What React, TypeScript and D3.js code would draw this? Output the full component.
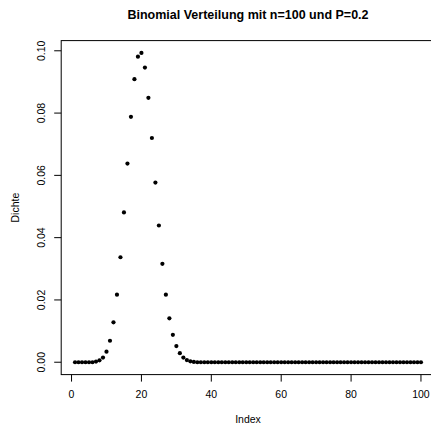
import React from "react";
import * as d3 from "d3";

// density values, index 1..100
const dichte = [
  0, 0, 0, 0, 0, 0, 0.0002, 0.0006, 0.0015, 0.0034,
  0.0069, 0.0128, 0.0217, 0.0337, 0.0481, 0.0638, 0.0788, 0.0909, 0.0981, 0.0993,
  0.0946, 0.0849, 0.072, 0.0577, 0.0439, 0.0316, 0.0217, 0.0141, 0.0088, 0.0052,
  0.0029, 0.0015, 0.0007, 0.0003, 0.0001, 0, 0, 0, 0, 0,
  0, 0, 0, 0, 0, 0, 0, 0, 0, 0,
  0, 0, 0, 0, 0, 0, 0, 0, 0, 0,
  0, 0, 0, 0, 0, 0, 0, 0, 0, 0,
  0, 0, 0, 0, 0, 0, 0, 0, 0, 0,
  0, 0, 0, 0, 0, 0, 0, 0, 0, 0,
  0, 0, 0, 0, 0, 0, 0, 0, 0, 0,
];
const xTicks = [0, 20, 40, 60, 80, 100];
const yTicks = [0, 0.02, 0.04, 0.06, 0.08, 0.1];
const title = "Binomial Verteilung mit n=100 und P=0.2";

const W = 431;
const H = 428;
const left = 61.2;
const right = 434.8;
const top = 40.6;
const bottom = 374.6;
const font = "'Liberation Sans', Arial, Helvetica, sans-serif";

const App = () => {
  const n = dichte.length;
  const ymax = d3.max(dichte) as number;
  // R style 4% extension
  const xs = d3.scaleLinear().domain([1 - 0.04 * (n - 1), n + 0.04 * (n - 1)]).range([left, right]);
  const ys = d3.scaleLinear().domain([-0.04 * ymax, ymax * 1.04]).range([bottom, top]);
  const fmt = d3.format(".2f");

  return (
    <svg width={W} height={H} style={{ position: "absolute", left: 0, top: 0 }} fontFamily={font}>
      <rect width={W} height={H} fill="white" />
      <text x={(left + right) / 2} y={19} textAnchor="middle" fontSize={12.5} fontWeight="bold">
        {title}
      </text>
      <rect x={left} y={top} width={right - left} height={bottom - top} fill="none" stroke="black" strokeWidth={1} />
      {xTicks.map(t => (
        <g key={"x" + t}>
          <line x1={xs(t)} x2={xs(t)} y1={bottom} y2={bottom + 7} stroke="black" />
          <text x={xs(t)} y={398} textAnchor="middle" fontSize={10.5}>{t}</text>
        </g>
      ))}
      {yTicks.map(t => (
        <g key={"y" + t}>
          <line x1={left - 7} x2={left} y1={ys(t)} y2={ys(t)} stroke="black" />
          <text transform={`translate(45,${ys(t)}) rotate(-90)`} textAnchor="middle" fontSize={10.5}>{fmt(t)}</text>
        </g>
      ))}
      <text x={(left + right) / 2} y={423} textAnchor="middle" fontSize={10.5}>Index</text>
      <text transform={`translate(18.5,${(top + bottom) / 2}) rotate(-90)`} textAnchor="middle" fontSize={10.5}>Dichte</text>
      {dichte.map((d, i) => (
        <circle key={i} cx={xs(i + 1)} cy={ys(d)} r={2.1} fill="black" />
      ))}
    </svg>
  );
};

export default App;
